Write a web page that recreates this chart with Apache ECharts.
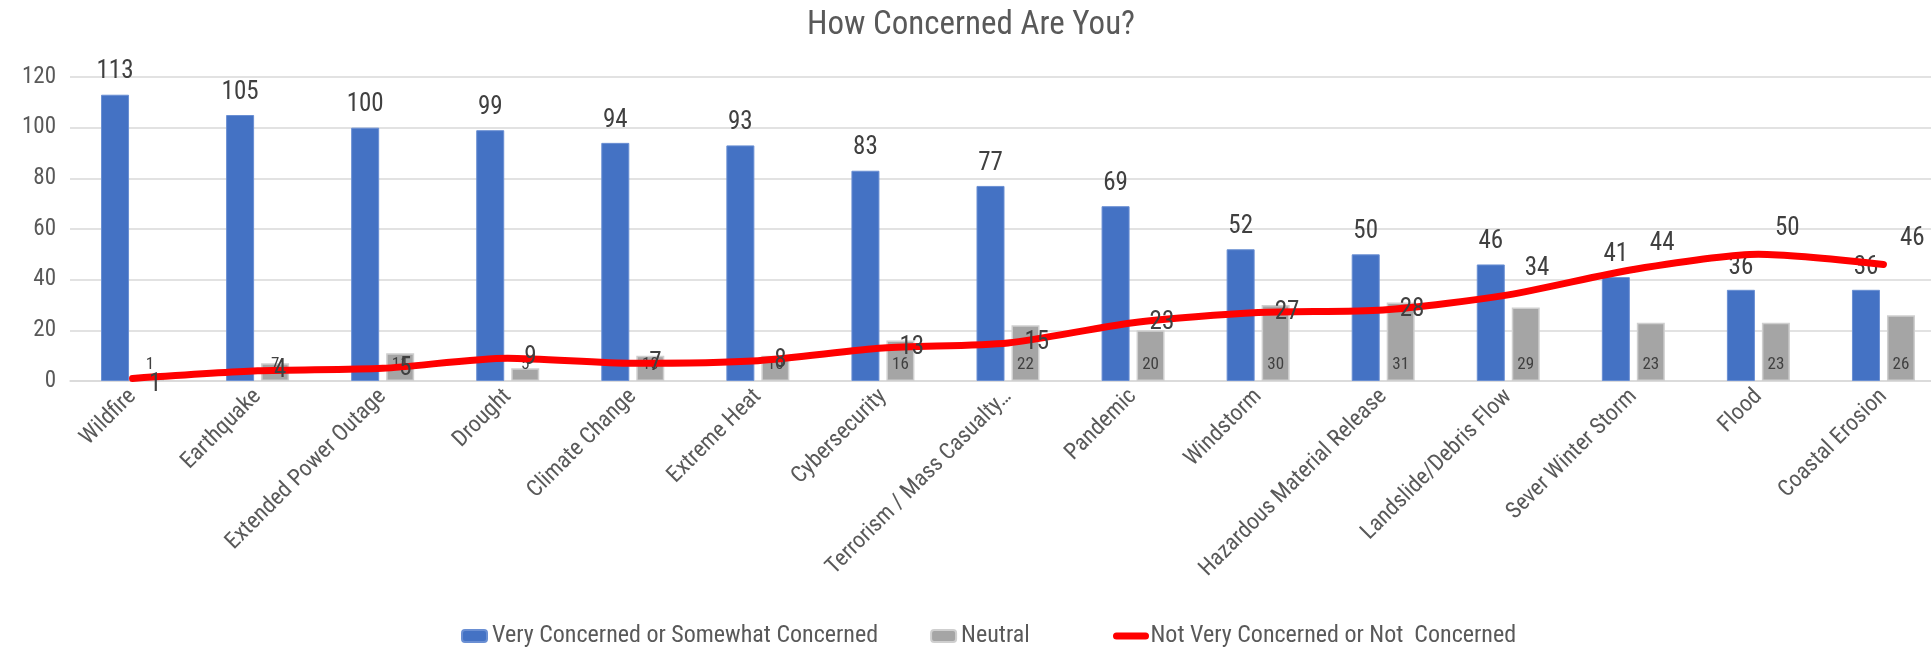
<!DOCTYPE html>
<html>
<head>
<meta charset="utf-8">
<script src="https://cdn.jsdelivr.net/npm/echarts@6/dist/echarts.min.js"></script>
<style>
html,body{margin:0;padding:0;background:#fff;overflow:hidden;width:1931px;height:647px;}
#chart{width:1946px;height:647px;}
</style>
</head>
<body>
<div id="chart"></div>
<script>
const categories = ["Wildfire","Earthquake","Extended Power Outage","Drought","Climate Change","Extreme Heat","Cybersecurity","Terrorism / Mass Casualty\u2026","Pandemic","Windstorm","Hazardous Material Release","Landslide/Debris Flow","Sever Winter Storm","Flood","Coastal Erosion"];
const veryConcerned = [113,105,100,99,94,93,83,77,69,52,50,46,41,36,36];
const neutral = [1,7,11,5,10,10,16,22,20,30,31,29,23,23,26];
const notConcerned = [1,4,5,9,7,8,13,15,23,27,28,34,44,50,46];
const yTicks = {min:0, max:120, interval:20};
const seriesNames = ["Very Concerned or Somewhat Concerned","Neutral","Not Very Concerned or Not  Concerned"];

const FONT = '"Liberation Sans Narrow","Arial Narrow","Roboto Condensed","Liberation Sans",Arial,sans-serif';

// line labels: higher points sit up and to the right of the curve
const lineData = notConcerned.map(v => ({
  value: v,
  label: v >= 30 ? {offset:[0,-26]} : (v <= 1 ? {offset:[0,6]} : {})
}));

const chart = echarts.init(document.getElementById('chart'));
chart.setOption({
  animation:false,
  backgroundColor:'#fff',
  textStyle:{fontFamily:FONT},
  title:{text:'How Concerned Are You?',left:802,top:4,
    textStyle:{fontFamily:FONT,fontSize:33,fontWeight:'normal',color:'#595959'}},
  grid:{left:70,top:77,bottom:266,right:0},
  legend:[
    {left:456,top:619,itemWidth:25,itemHeight:12,itemGap:52,
      textStyle:{fontFamily:FONT,fontSize:24,color:'#595959'},
      data:[seriesNames[0],seriesNames[1]]},
    {left:1108,top:619,itemWidth:29,itemHeight:12,
      textStyle:{fontFamily:FONT,fontSize:24,color:'#595959'},
      data:[{name:seriesNames[2],itemStyle:{color:'rgba(0,0,0,0)',borderWidth:0},lineStyle:{width:7,cap:'round'}}]}
  ],
  xAxis:{type:'category',data:categories,
    axisLine:{lineStyle:{color:'#d9d9d9',width:1.5}},
    axisTick:{show:false},
    axisLabel:{interval:0,rotate:45,fontFamily:FONT,fontSize:23,color:'#595959',margin:12}},
  yAxis:{type:'value',min:yTicks.min,max:yTicks.max,interval:yTicks.interval,
    axisLine:{show:false},axisTick:{show:false},
    splitLine:{lineStyle:{color:'#d9d9d9',width:1.5}},
    axisLabel:{fontFamily:FONT,fontSize:23,color:'#595959',margin:14}},
  series:[
    {name:seriesNames[0],type:'bar',data:veryConcerned,barWidth:28,barGap:'25%',
      itemStyle:{color:'#4472C4',borderColor:'#6a8fd3',borderWidth:1},
      label:{show:true,position:'top',distance:10,fontFamily:FONT,fontSize:25,color:'#404040'}},
    {name:seriesNames[1],type:'bar',data:neutral,barWidth:28,
      itemStyle:{color:'#A5A5A5',borderColor:'#cfcfcf',borderWidth:1.5},
      label:{show:true,position:'insideBottom',distance:8,fontFamily:FONT,fontSize:17,color:'#404040'}},
    {name:seriesNames[2],type:'line',data:lineData,smooth:0.25,symbol:'circle',symbolSize:1,showSymbol:true,z:5,
      lineStyle:{color:'#FF0000',width:7,cap:'round'},itemStyle:{color:'#FF0000'},
      label:{show:true,position:'right',distance:16,fontFamily:FONT,fontSize:25,color:'#404040'}}
  ]
});
</script>
</body>
</html>
